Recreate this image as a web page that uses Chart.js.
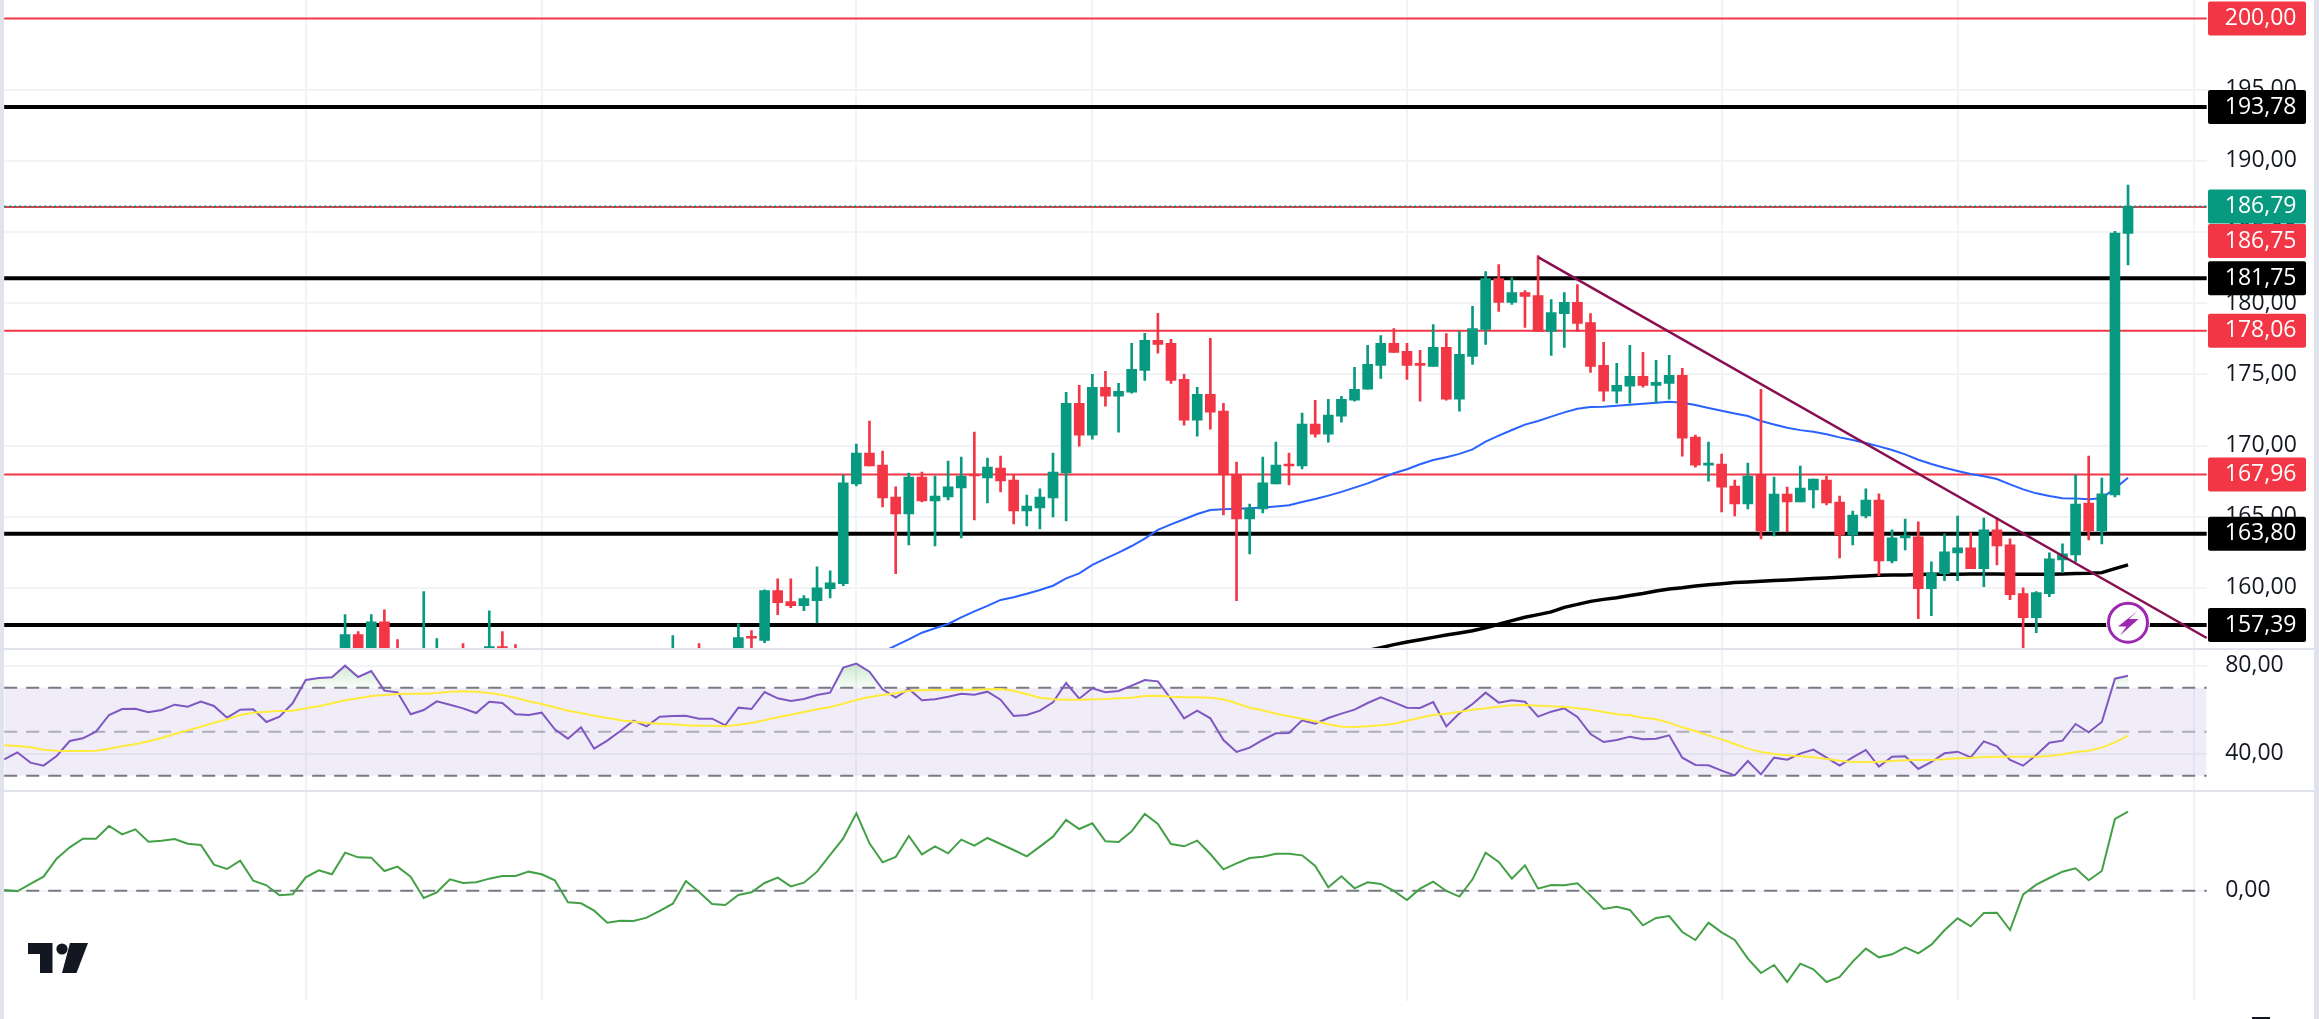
<!DOCTYPE html>
<html>
<head>
<meta charset="utf-8">
<title>Price chart</title>
<script src="https://cdn.jsdelivr.net/npm/chart.js@4/dist/chart.umd.min.js"></script>
<style>
html,body{margin:0;padding:0;background:#fff;overflow:hidden;width:2319px;height:1019px}
canvas{position:absolute;left:0;display:block}
.band{position:absolute;background:#e0e3eb}
svg{position:absolute;left:0;top:0;pointer-events:none}
</style>
</head>
<body>
<canvas id="price" width="2319" height="648" style="top:0"></canvas>
<canvas id="rsi" width="2319" height="140" style="top:650px"></canvas>
<canvas id="mom" width="2319" height="210" style="top:791px"></canvas>
<div class="band" style="left:0;top:0;width:4px;height:1019px"></div>
<div class="band" style="left:2314px;top:0;width:5px;height:1019px"></div>
<div class="band" style="left:4px;top:648px;width:2310px;height:2px"></div>
<div class="band" style="left:4px;top:790px;width:2310px;height:2px"></div>
<div style="position:absolute;left:2252px;top:1017px;width:18px;height:2px;background:#131722"></div>
<svg width="2319" height="1019" viewBox="0 0 2319 1019">
  <circle cx="2128" cy="622.7" r="22" fill="#fff"/>
  <circle cx="2128" cy="622.7" r="19.5" fill="#fff" stroke="#9c27b0" stroke-width="3"/>
  <polygon points="2137.5,611 2118,626.5 2126.5,626.5 2120,635.5 2138.5,619 2129,619" fill="#9c27b0"/>
  <g fill="#131722">
    <polygon points="28,943 52.5,943 52.5,973 40,973 40,954 28,954"/>
    <circle cx="62" cy="949" r="5.6"/>
    <polygon points="70,943 88,943 76.5,973 62,973"/>
  </g>
</svg>
<script>
// ---------- bar layout ----------
const barCount = 169;
const barLabels = Array.from({length: barCount}, (_, i) => String(i));
const gridBars = [23, 41, 65, 83, 107, 131, 149, 167];
const atBar = (start, vals) => {
  const out = Array(barCount).fill(null);
  vals.forEach((v, i) => { out[start + i] = v; });
  return out;
};

// ---------- candles, bars 26..162 ----------
const firstCandle = 26;
const opens = [
155.0,156.71,155.3,157.62,155.5,null,155.0,155.0,null,155.4,
null,155.3,155.87,155.5,null,null,null,null,null,null,
null,null,null,null,null,155.1,null,155.5,null,null,
155.0,156.6,156.3,159.8,
159.03,158.75,159.1,159.94,160.29,167.3,169.47,168.63,166.38,165.19,
167.79,166.1,166.38,167.02,168,167.72,168.42,167.58,165.4,165.61,
166.31,168.07,172.97,170.73,174.09,173.46,173.74,175.28,177.39,177.18,
174.65,171.78,173.6,172.41,167.93,164.84,165.54,167.3,168.7,168.56,
171.5,170.8,172.06,173.18,173.95,175.63,177.17,176.61,175.77,175.56,
176.89,173.25,176.26,178.15,181.73,180.05,180.75,180.54,178.01,179.27,
180.05,178.64,175.63,173.81,174.16,174.86,174.23,174.37,174.93,170.59,
168.62,168.69,167.15,165.89,167.92,164,166.59,166.03,166.88,167.58,
166.03,163.72,165.05,166.17,161.9,163.51,163.58,159.94,161,162.46,
162.81,161.34,164.07,163.02,159.59,157.91,159.59,161.97,162.32,165.96,
164,166.53,184.9];
const closes = [
156.71,155.2,157.62,155.4,155.2,null,155.6,155.4,null,155.1,
null,155.87,155.4,155.2,null,null,null,null,null,null,
null,null,null,null,null,155.5,null,155.1,null,null,
156.5,156.46,159.8,158.96,
158.75,159.24,160,160.36,167.37,169.47,168.56,166.31,165.19,167.79,
166.1,166.45,167.09,167.86,167.86,168.49,167.51,165.4,165.75,166.38,
168.14,172.97,170.73,174.09,173.46,173.81,175.35,177.39,177.11,174.58,
171.78,173.6,172.34,167.93,164.84,165.61,167.37,168.63,168.56,171.5,
170.8,172.13,173.25,173.95,175.7,177.17,176.54,175.63,175.63,176.89,
173.25,176.4,178.22,181.73,180.05,180.75,180.47,178.01,179.34,180.05,
178.57,175.56,173.81,174.23,174.86,174.23,174.44,174.93,170.52,168.62,
168.76,167.08,165.89,167.85,164,166.59,166.03,167.01,167.65,165.96,
163.72,165.12,166.17,161.9,163.51,163.65,159.94,161.06,162.53,162.81,
161.34,164.07,162.95,159.52,157.91,159.66,162.04,162.39,165.89,164,
166.6,184.93,186.79];
const highs = [
158.12,156.93,158.12,158.46,156.36,null,159.73,156.43,null,156.08,
null,158.39,156.93,156.01,null,null,null,null,null,null,
null,null,null,null,null,156.64,null,156.08,null,null,
157.48,157,159.87,160.64,
160.64,159.45,161.48,161.2,167.93,170.1,171.71,169.61,167.09,168.07,
168.14,167.86,168.91,169.19,170.94,169.12,169.26,167.93,166.52,166.95,
169.47,173.74,174.23,175,175.21,174.37,177.18,177.88,179.28,177.46,
175,174.09,177.53,172.97,168.84,165.89,169.19,170.24,169.47,172.27,
173.18,173.25,173.46,175.49,177.03,177.73,178.22,177.17,176.68,178.5,
177.87,178.01,179.77,182.22,182.71,181.8,180.89,183.34,180.26,180.75,
181.31,179.27,177.24,175.77,177.03,176.54,175.98,176.33,175.42,170.73,
170.24,169.39,167.57,168.76,173.95,167.78,167.08,168.55,167.65,167.86,
166.45,165.4,166.95,166.6,164.07,164.84,164.63,161.83,163.79,165.05,
163.86,164.91,164.91,163.44,160.01,159.73,162.46,163.09,167.93,169.26,
167.72,185.05,188.3];
const lows = [
154.6,154.8,155.0,155.0,154.6,null,154.6,154.6,null,154.7,
null,155.0,155.0,154.9,null,null,null,null,null,null,
null,null,null,null,null,154.8,null,154.8,null,null,
154.7,155.2,156.15,158.12,
158.6,158.39,157.55,159.3,160.15,167.16,168.56,165.68,160.99,163.02,
166.03,162.95,166.17,163.51,164.77,165.96,166.74,164.49,164.35,164.14,
164.98,164.7,169.96,170.45,172.76,170.94,173.67,174.58,176.48,174.37,
171.43,170.66,171.15,165.12,159.1,162.39,165.26,167.3,167.23,168.35,
170.59,170.24,171.64,173.11,173.95,174.72,176.54,174.65,173.11,175.56,
173.18,172.41,175.7,177.1,179.42,179.91,178.3,178.01,176.33,176.89,
178.01,175.14,173.11,172.97,172.97,174.09,172.97,173.25,169.25,168.48,
167.5,165.33,165.05,165.54,163.44,163.65,163.93,166.03,165.61,165.82,
162.11,163.02,164.91,160.85,161.76,162.67,157.84,158.05,160.5,160.5,
161.34,160.08,161.62,159.17,155.6,156.85,159.38,161.06,161.83,163.37,
163.09,166.39,182.68];

// ---------- moving averages on price ----------
const blueStart = 67;
const blueMA = [
155.5,155.94,156.38,156.85,157.16,157.46,157.93,158.35,158.73,159.15,159.34,159.59,159.85,
160.15,160.67,161.02,161.61,162.05,162.47,162.94,163.46,164.07,164.46,164.82,165.19,
165.47,165.52,165.56,165.59,165.64,165.71,165.8,166.03,166.24,166.48,166.74,167.04,
167.34,167.7,168.05,168.33,168.68,168.98,169.17,169.41,169.73,170.27,170.69,171.09,
171.47,171.72,172.03,172.33,172.58,172.7,172.72,172.79,172.86,172.93,173.0,173.07,
173.0,172.84,172.63,172.44,172.25,172.07,171.72,171.48,171.25,171.08,170.97,170.79,
170.57,170.39,170.18,169.94,169.68,169.38,169.0,168.7,168.44,168.21,168.0,167.84,
167.65,167.27,166.92,166.64,166.45,166.29,166.27,166.22,166.29,166.99,167.74];
const blackStart = 104;
const blackMA = [
155.6,155.8,156.01,156.2,156.36,156.52,156.69,156.83,156.99,157.2,157.44,157.7,157.93,
158.12,158.31,158.63,158.84,159.05,159.19,159.31,159.47,159.61,159.78,159.92,160.01,
160.13,160.22,160.29,160.37,160.41,160.46,160.51,160.55,160.6,160.65,160.69,160.74,
160.79,160.83,160.88,160.9,160.9,160.93,160.95,160.95,160.95,160.97,160.97,160.97,
160.95,160.95,160.95,160.95,160.97,161.0,161.02,161.07,161.35,161.61];

// ---------- trend line drawing ----------
const trendBars = [117, 168];
const trendValues = [183.24, 156.48];

// ---------- horizontal levels ----------
const levelValues = [200, 193.78, 186.75, 186.79, 181.75, 178.06, 167.96, 163.80, 157.39];
const levelLabels = ['200,00', '193,78', '186,75', '186,79', '181,75', '178,06', '167,96', '163,80', '157,39'];
const levelKinds  = ['red', 'black', 'red', 'last', 'black', 'red', 'red', 'black', 'black'];

// ---------- RSI ----------
const rsiValues = [
37.44,40.63,35.93,34.56,38.96,45.78,47.0,50.02,57.6,60.32,60.47,58.81,59.87,62.29,61.38,63.65,
61.69,56.38,60.02,60.17,54.41,56.84,62.9,73.5,74.41,74.72,80.02,74.87,77.59,68.65,67.9,57.9,
59.87,63.81,62.29,60.62,58.5,63.65,63.05,57.9,57.6,58.66,51.08,46.84,51.99,42.29,45.93,50.32,
55.02,52.44,56.84,57.14,57.29,55.93,55.93,52.9,60.93,60.32,68.05,65.17,63.96,
64.87,66.69,67.75,79.11,80.93,77.29,69.26,65.47,69.41,64.26,64.72,65.93,67.29,66.84,68.2,64.56,
57.14,57.6,59.56,63.35,72.14,65.02,69.72,67.9,68.5,70.93,73.5,72.9,64.87,56.08,59.56,56.08,
46.23,40.78,42.75,46.23,49.26,49.41,55.17,53.65,56.23,58.2,60.02,63.05,65.62,63.35,60.93,60.78,
63.5,52.44,58.35,62.59,67.75,63.2,64.26,63.65,56.84,59.11,60.62,
56.68,48.96,45.32,46.23,47.75,46.53,46.84,48.35,38.2,34.87,34.72,32.29,30.17,36.68,30.62,38.2,
37.29,40.02,41.84,38.2,34.56,38.35,41.69,34.11,38.65,38.81,33.05,36.23,40.17,40.93,38.35,45.62,
43.35,37.14,34.56,39.41,45.02,45.93,53.5,49.72,54.41,74.11,75.47];
const rsiMA = [
43.81,43.5,42.9,41.84,41.38,41.23,41.23,41.38,42.29,43.35,44.26,45.62,47.14,48.96,50.62,52.29,
54.11,55.62,57.6,58.66,59.11,59.41,59.56,60.62,61.53,62.9,64.26,65.17,66.23,66.69,67.14,67.29,
67.29,67.6,68.2,68.35,68.2,67.6,66.69,65.47,63.81,62.59,61.08,59.56,58.5,57.29,56.23,55.17,
54.56,53.96,53.65,53.35,52.9,52.75,52.75,52.44,53.2,53.96,55.17,56.53,57.75,
58.96,60.17,61.08,62.75,64.41,65.78,66.69,67.44,68.65,68.81,68.96,68.96,68.96,69.11,69.26,69.41,
68.65,66.99,65.47,64.72,64.56,64.56,64.72,64.87,65.17,65.47,66.23,66.38,65.93,65.62,65.62,65.47,
64.72,62.9,60.93,59.72,58.2,56.99,55.93,54.72,53.35,52.29,52.14,52.44,52.9,53.65,55.02,56.38,
57.6,58.2,59.11,60.02,60.62,61.38,61.99,62.14,61.84,61.53,61.23,
60.62,60.02,58.96,57.9,57.44,56.38,55.62,54.11,51.99,50.17,48.35,46.53,44.41,42.29,40.78,39.87,
39.26,38.81,38.35,37.59,36.84,36.23,36.23,36.38,36.68,36.99,37.14,37.14,37.44,37.9,38.05,38.5,
38.66,38.66,38.66,38.66,38.96,39.72,40.78,41.38,42.75,45.17,48.2];
const rsiUpper = 70, rsiMiddle = 50, rsiLower = 30;

// ---------- momentum ----------
const momValues = [
0.22,-0.2,2.08,4.36,9.95,13.47,16.16,16.16,20.09,17.5,19.06,15.23,15.54,16.05,14.61,14.19,
8.08,6.74,9.33,3.11,1.67,-1.44,-1.13,4.15,6.32,5.08,11.81,10.36,10.26,6.12,7.46,4.36,
-2.27,-0.51,3.53,2.39,2.6,3.74,4.56,4.56,5.91,5.08,3.22,-3.61,-3.92,-6.2,-9.93,-9.31,
-9.41,-8.38,-6.3,-4.03,3.01,-0.41,-4.13,-4.44,-1.34,-0.51,2.39,4.05,1.35,
2.49,5.91,11.09,16.26,24.03,14.71,8.81,10.46,16.99,11.29,13.78,11.6,15.85,13.98,16.37,14.5,
12.64,10.67,13.67,16.78,21.96,19.16,20.92,15.33,15.12,18.44,23.82,20.71,14.5,13.78,15.54,11.4,
6.63,8.5,10.15,10.57,11.5,11.5,10.98,7.67,1.05,4.46,0.73,2.6,2.08,-0.09,-2.89,0.63,
2.8,-0.09,-1.85,3.53,11.81,8.91,3.74,7.88,0.63,1.77,1.67,
2.29,-1.54,-5.68,-4.96,-5.99,-10.76,-8.48,-7.86,-12.83,-15.31,-9.93,-12.93,-15.31,-21.11,-25.56,-23.08,
-28.35,-22.66,-24.42,-28.35,-26.8,-22.04,-18.0,-20.69,-19.77,-17.59,-19.45,-16.76,-12.31,-8.58,-11.07,-6.93,
-6.82,-12.21,-1.13,1.87,3.94,5.91,6.94,3.22,6.12,22.27,24.54];
const momZero = 0;

// ---------- axis ticks ----------
const priceTicks = [160, 165, 170, 175, 180, 185, 190, 195];
const rsiTicks = [40, 80];
const momTicks = [0];

// ---------- styles ----------
const GREEN = '#089981', RED = '#f23645', BLACK = '#000000', GRID = '#f2f3f6';
const TEXT = '#131722', DASH = '#787b86';
const AXIS_FONT = {family: '"Open Sans"', size: 23, weight: '500'};
const AXIS_WIDTH = 112.3;
const fmt = v => Number(v).toFixed(2).replace('.', ',');
const kindColor = {red: RED, black: BLACK, last: GREEN};

const xAxis = () => ({
  type: 'category',
  offset: false,
  ticks: {display: false, autoSkip: false, maxRotation: 0},
  border: {display: false},
  grid: {
    offset: false, drawTicks: false, lineWidth: 2,
    color: c => gridBars.includes(c.index) ? GRID : 'rgba(0,0,0,0)'
  },
  afterFit: a => { a.height = 0; a.paddingLeft = a.paddingRight = 0; }
});
const yAxis = (min, max, ticks) => ({
  type: 'linear', position: 'right', min, max,
  border: {display: false},
  grid: {drawTicks: false, lineWidth: 2, color: GRID},
  afterBuildTicks: a => { a.ticks = ticks.map(value => ({value})); },
  afterFit: a => { a.width = AXIS_WIDTH; a.paddingTop = 0; a.paddingBottom = 0; },
  ticks: {
    crossAlign: 'near', padding: 18.5, color: TEXT, font: AXIS_FONT,
    callback: v => fmt(v)
  }
});
const baseOptions = scales => ({
  responsive: false, animation: false, events: [], devicePixelRatio: 1,
  layout: {padding: {left: 4.2, right: 0, top: 0, bottom: 0}},
  plugins: {legend: {display: false}, tooltip: {enabled: false}},
  scales
});
const constLine = (value, color, width, order, dash) => ({
  type: 'line', data: Array(barCount).fill(value), borderColor: color, borderWidth: width,
  borderDash: dash || [], pointRadius: 0, order, fill: false
});
const line = (data, color, width, order, extra) => Object.assign({
  type: 'line', data, borderColor: color, borderWidth: width, pointRadius: 0,
  tension: 0, order, fill: false
}, extra || {});

// ---------- price pane ----------
const o = atBar(firstCandle, opens), c = atBar(firstCandle, closes);
const h = atBar(firstCandle, highs), l = atBar(firstCandle, lows);
const candleColors = o.map((v, i) => v == null ? GREEN : (c[i] >= v ? GREEN : RED));
const bodies = o.map((v, i) => v == null ? null : [Math.min(v, c[i]), Math.max(v, c[i])]);
const wicks = o.map((v, i) => v == null ? null : [l[i], h[i]]);
const trendData = Array(barCount).fill(null);
trendBars.forEach((b, i) => { trendData[b] = trendValues[i]; });

const levelDatasets = levelValues.map((v, i) => {
  const k = levelKinds[i];
  if (k === 'black') return constLine(v, BLACK, 4, 6);
  if (k === 'last') return constLine(v, GREEN, 2, 5, [2, 3]);
  return constLine(v, RED, 2, 6);
});

const boxPlugin = {
  id: 'levelBoxes',
  afterDraw(chart) {
    const g = chart.ctx, y = chart.scales.y, H = 34, X = 2208, W = 98;
    g.save();
    levelValues.forEach((v, i) => {
      const kind = levelKinds[i];
      const shift = levelLabels[i] === '186,75' ? 34 : 0;
      const cy = y.getPixelForValue(v) + shift;
      g.fillStyle = kindColor[kind];
      g.beginPath();
      g.roundRect(X, cy - H / 2, W, H, 2);
      g.fill();
      g.fillStyle = '#ffffff';
      g.font = AXIS_FONT.weight + ' ' + AXIS_FONT.size + 'px ' + AXIS_FONT.family;
      g.textAlign = 'left';
      g.textBaseline = 'middle';
      g.fillText(levelLabels[i], 2224.8, cy);
    });
    g.restore();
  }
};

new Chart(document.getElementById('price'), {
  type: 'bar',
  data: {
    labels: barLabels,
    datasets: [
      ...levelDatasets,
      line(atBar(blueStart, blueMA), '#2962ff', 2, 4),
      line(atBar(blackStart, blackMA), BLACK, 3.5, 4),
      {type: 'bar', data: wicks, backgroundColor: candleColors, barThickness: 2, grouped: false, order: 3},
      {type: 'bar', data: bodies, backgroundColor: candleColors, barThickness: 10, grouped: false, order: 2},
      line(trendData, '#880e4f', 2.5, 1, {spanGaps: true})
    ]
  },
  options: baseOptions({x: xAxis(), y: yAxis(155.775, 201.297, priceTicks)}),
  plugins: [boxPlugin]
});

// ---------- RSI pane ----------
const rsiCanvas = document.getElementById('rsi');
const obGrad = rsiCanvas.getContext('2d').createLinearGradient(0, 14, 0, 38);
obGrad.addColorStop(0, 'rgba(76,175,80,0.28)');
obGrad.addColorStop(1, 'rgba(76,175,80,0.03)');

new Chart(rsiCanvas, {
  type: 'line',
  data: {
    labels: barLabels,
    datasets: [
      Object.assign(constLine(rsiUpper, DASH, 2, 6, [13, 9]),
        {fill: {target: {value: rsiLower}, above: 'rgba(126,87,194,0.115)', below: 'rgba(0,0,0,0)'}}),
      constLine(rsiMiddle, 'rgba(120,123,134,0.55)', 2, 6, [13, 9]),
      constLine(rsiLower, DASH, 2, 6, [13, 9]),
      line(atBar(0, rsiValues), '#7e57c2', 2, 3,
        {fill: {target: {value: rsiUpper}, above: obGrad, below: 'rgba(0,0,0,0)'}}),
      line(atBar(0, rsiMA), '#ffeb3b', 2, 2)
    ]
  },
  options: baseOptions({x: xAxis(), y: yAxis(23.5, 87.14, rsiTicks)})
});

// ---------- momentum pane ----------
new Chart(document.getElementById('mom'), {
  type: 'line',
  data: {
    labels: barLabels,
    datasets: [
      constLine(momZero, DASH, 2, 6, [13, 9]),
      line(atBar(0, momValues), '#43a047', 2, 3)
    ]
  },
  options: baseOptions({x: xAxis(), y: yAxis(-34.26, 30.96, momTicks)})
});
</script>
</body>
</html>
